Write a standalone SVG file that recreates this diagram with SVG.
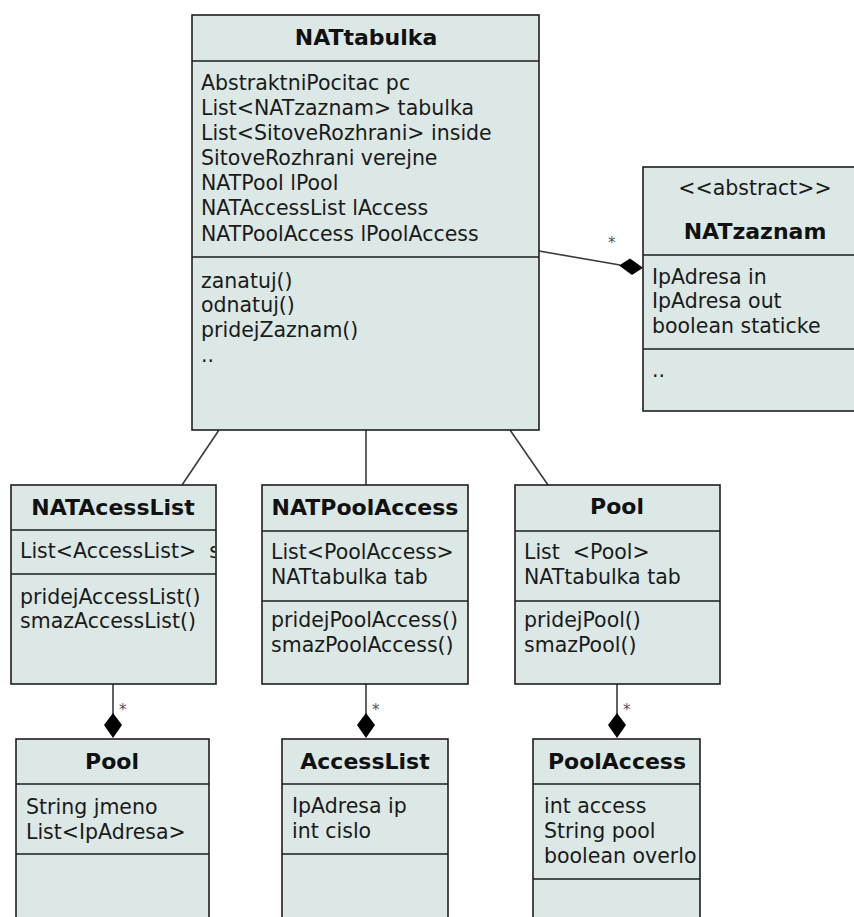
<svg xmlns="http://www.w3.org/2000/svg" width="854" height="917" viewBox="0 0 854 917">
<style>
.box{fill:#dce8e5;stroke:#1e1e1e;stroke-width:1.6}
.sep{stroke:#1e1e1e;stroke-width:1.6}
.t{font-family:"DejaVu Sans",sans-serif;font-size:20.5px;fill:#1a1a1a;white-space:pre}
.h{font-family:"DejaVu Sans",sans-serif;font-size:22px;font-weight:bold;fill:#111;text-anchor:middle}
.st{font-family:"DejaVu Sans",sans-serif;font-size:15px;fill:#555}
.c{stroke:#3a3a3a;stroke-width:1.6;fill:none}
.d{fill:#000}
</style>
<defs>
<clipPath id="clipA"><rect x="11" y="530" width="204" height="44"/></clipPath>
<clipPath id="clipB"><rect x="533" y="784" width="166" height="95"/></clipPath>
</defs>
<g id="connectors">
<line class="c" x1="219" y1="430" x2="182" y2="485"/>
<line class="c" x1="366" y1="430" x2="366" y2="485"/>
<line class="c" x1="510" y1="430" x2="548" y2="485"/>
<line class="c" x1="539" y1="251" x2="620" y2="265"/>
<path class="d" d="M619,265.5 L630,258.5 L643,267.8 L632,275 Z"/>
<text class="st" x="608" y="248">*</text>
<line class="c" x1="113" y1="684" x2="113" y2="714"/>
<path class="d" d="M113,713 L122,725 L113,738 L104,725 Z"/>
<text class="st" x="119" y="715">*</text>
<line class="c" x1="366" y1="684" x2="366" y2="714"/>
<path class="d" d="M366,713 L375,725 L366,738 L357,725 Z"/>
<text class="st" x="372" y="715">*</text>
<line class="c" x1="617" y1="684" x2="617" y2="714"/>
<path class="d" d="M617,713 L626,725 L617,738 L608,725 Z"/>
<text class="st" x="623" y="715">*</text>
</g>
<g id="NATtabulka">
<rect class="box" x="192" y="15" width="347" height="415"/>
<line class="sep" x1="192" y1="61" x2="539" y2="61"/>
<line class="sep" x1="192" y1="257" x2="539" y2="257"/>
<text class="h" x="366" y="45">NATtabulka</text>
<text class="t" x="201" y="90">AbstraktniPocitac pc</text>
<text class="t" x="201" y="115">List&lt;NATzaznam&gt; tabulka</text>
<text class="t" x="201" y="140">List&lt;SitoveRozhrani&gt; inside</text>
<text class="t" x="201" y="165">SitoveRozhrani verejne</text>
<text class="t" x="201" y="190">NATPool lPool</text>
<text class="t" x="201" y="215">NATAccessList lAccess</text>
<text class="t" x="201" y="241">NATPoolAccess lPoolAccess</text>
<text class="t" x="201" y="288">zanatuj()</text>
<text class="t" x="201" y="312">odnatuj()</text>
<text class="t" x="201" y="337">pridejZaznam()</text>
<text class="t" x="201" y="362">..</text>
</g>
<g id="NATzaznam">
<rect class="box" x="643" y="167" width="224" height="244"/>
<line class="sep" x1="643" y1="255" x2="867" y2="255"/>
<line class="sep" x1="643" y1="349" x2="867" y2="349"/>
<text class="t" x="755" y="195" text-anchor="middle">&lt;&lt;abstract&gt;&gt;</text>
<text class="h" x="755" y="239">NATzaznam</text>
<text class="t" x="652" y="284">IpAdresa in</text>
<text class="t" x="652" y="308">IpAdresa out</text>
<text class="t" x="652" y="333">boolean staticke</text>
<text class="t" x="652" y="377">..</text>
</g>
<g id="NATAcessList">
<rect class="box" x="11" y="485" width="205" height="199"/>
<line class="sep" x1="11" y1="530" x2="216" y2="530"/>
<line class="sep" x1="11" y1="574" x2="216" y2="574"/>
<text class="h" x="113" y="515">NATAcessList</text>
<text class="t" x="20" y="558" clip-path="url(#clipA)">List&lt;AccessList&gt;  s</text>
<text class="t" x="20" y="604">pridejAccessList()</text>
<text class="t" x="20" y="628">smazAccessList()</text>
</g>
<g id="NATPoolAccess">
<rect class="box" x="262" y="485" width="206" height="199"/>
<line class="sep" x1="262" y1="531" x2="468" y2="531"/>
<line class="sep" x1="262" y1="601" x2="468" y2="601"/>
<text class="h" x="365" y="515">NATPoolAccess</text>
<text class="t" x="271" y="559">List&lt;PoolAccess&gt;</text>
<text class="t" x="271" y="584">NATtabulka tab</text>
<text class="t" x="271" y="627">pridejPoolAccess()</text>
<text class="t" x="271" y="652">smazPoolAccess()</text>
</g>
<g id="Pool">
<rect class="box" x="515" y="485" width="205" height="199"/>
<line class="sep" x1="515" y1="531" x2="720" y2="531"/>
<line class="sep" x1="515" y1="601" x2="720" y2="601"/>
<text class="h" x="617" y="514">Pool</text>
<text class="t" x="524" y="559">List  &lt;Pool&gt;</text>
<text class="t" x="524" y="584">NATtabulka tab</text>
<text class="t" x="524" y="627">pridejPool()</text>
<text class="t" x="524" y="652">smazPool()</text>
</g>
<g id="Pool2">
<rect class="box" x="16" y="739" width="193" height="190"/>
<line class="sep" x1="16" y1="784" x2="209" y2="784"/>
<line class="sep" x1="16" y1="854" x2="209" y2="854"/>
<text class="h" x="112" y="769">Pool</text>
<text class="t" x="26" y="814">String jmeno</text>
<text class="t" x="26" y="839">List&lt;IpAdresa&gt;</text>
</g>
<g id="AccessList">
<rect class="box" x="282" y="739" width="166" height="190"/>
<line class="sep" x1="282" y1="784" x2="448" y2="784"/>
<line class="sep" x1="282" y1="854" x2="448" y2="854"/>
<text class="h" x="365" y="769">AccessList</text>
<text class="t" x="292" y="813">IpAdresa ip</text>
<text class="t" x="292" y="838">int cislo</text>
</g>
<g id="PoolAccess">
<rect class="box" x="533" y="739" width="167" height="190"/>
<line class="sep" x1="533" y1="784" x2="700" y2="784"/>
<line class="sep" x1="533" y1="879" x2="700" y2="879"/>
<text class="h" x="617" y="769">PoolAccess</text>
<text class="t" x="544" y="813">int access</text>
<text class="t" x="544" y="838">String pool</text>
<text class="t" x="544" y="863" clip-path="url(#clipB)">boolean overlo</text>
</g>
</svg>
